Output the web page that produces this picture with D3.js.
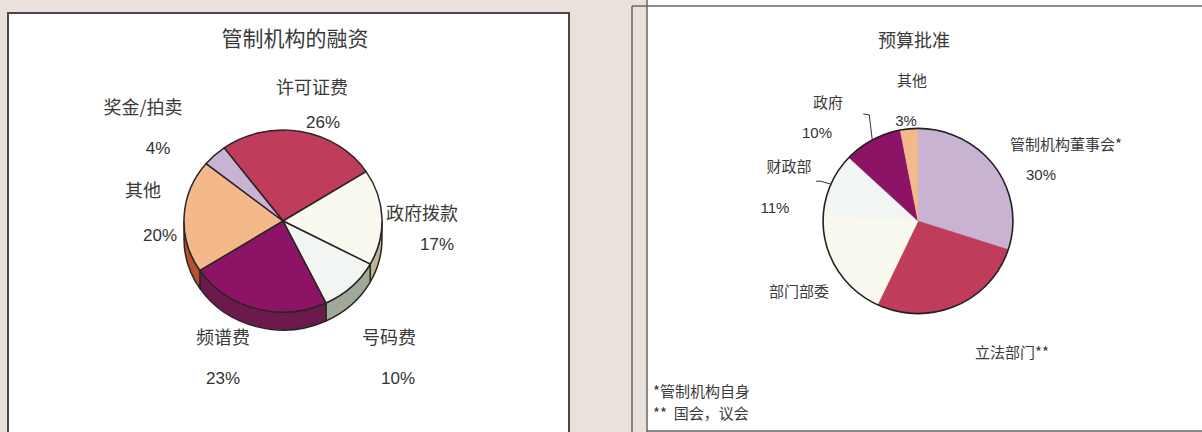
<!DOCTYPE html>
<html>
<head>
<meta charset="utf-8">
<script src="https://cdn.jsdelivr.net/npm/d3@7"></script>
<style>
  html, body { margin: 0; padding: 0; background: #e9e1dc; }
  svg { display: block; }
  .cn { font-family: "Noto Sans CJK SC", sans-serif; fill: #3a3a3a; }
  .num { font-family: "Liberation Sans", Arial, sans-serif; fill: #333; }
</style>
</head>
<body>
<svg id="SVG_CONTAINER" width="1202" height="432"></svg>
<script>
// ---- data: left chart (funding of the regulator) ----
const fundNames  = ["许可证费", "政府拨款", "号码费", "频谱费", "其他", "奖金/拍卖"];
const fundValues = [26, 17, 10, 23, 20, 4];
const fundLabels = ["26%", "17%", "10%", "23%", "20%", "4%"];

// ---- data: right chart (budget approval) ----
const budgetNames  = ["管制机构董事会*", "立法部门**", "部门部委", "财政部", "政府", "其他"];
const budgetValues = [30, 27, 19, 11, 10, 3];
const budgetLabels = ["30%", "", "", "11%", "10%", "3%"];

const footnotes = ["*管制机构自身", "**  国会，议会"];

// colours
const topColours  = ["#bf3d5b", "#f9f9f0", "#f1f6f2", "#8d1366", "#f4b98a", "#c8b3d2"];
const sideColours = ["#8a2a40", "#bdb592", "#9ea99a", "#6b1a4b", "#b5512f", "#8e7f98"];
const budgetColours = ["#c8b3d2", "#bf3d5b", "#f9f9f0", "#f1f6f2", "#8d1366", "#f4b98a"];

const width = 1202, height = 432;
let svg = d3.select("#SVG_CONTAINER");

//** PANELS *****************************************
svg.append("rect")
    .attr("x", 8).attr("y", 13)
    .attr("width", 561).attr("height", 440)
    .attr("fill", "#fff")
    .attr("stroke", "#4d4648").attr("stroke-width", 2);

svg.append("rect")
    .attr("x", 647).attr("y", 0)
    .attr("width", width - 647).attr("height", 431)
    .attr("fill", "#fff");
svg.append("line")   // top edge of the right frame
    .attr("x1", 632).attr("x2", width).attr("y1", 6).attr("y2", 6)
    .attr("stroke", "#6b6566").attr("stroke-width", 1.5);
svg.append("line")
    .attr("x1", 632).attr("x2", 632).attr("y1", 6).attr("y2", height)
    .attr("stroke", "#6b6566").attr("stroke-width", 1.5);
svg.append("line")
    .attr("x1", 647).attr("x2", 647).attr("y1", 0).attr("y2", height)
    .attr("stroke", "#6b6566").attr("stroke-width", 1.5);
svg.append("line")
    .attr("x1", 647).attr("x2", width).attr("y1", 431).attr("y2", 431)
    .attr("stroke", "#6b6566").attr("stroke-width", 1.5);

//** LEFT: 3D PIE *****************************************
let left = svg.append("g").attr("class", "leftPie");

left.append("text").attr("class", "cn")
    .attr("x", 295).attr("y", 46)
    .attr("text-anchor", "middle")
    .style("font-size", "21px")
    .text("管制机构的融资");

const cx = 283, cy = 221, rx = 99, ry = 91, depth = 18;
const deg = Math.PI / 180;

let pie3d = d3.pie().sort(null).value(d => d)
    .startAngle(-36.5 * deg)
    .endAngle(-36.5 * deg + 2 * Math.PI);
let fundArcs = pie3d(fundValues);

function rim(a, dy) {
    return [cx + rx * Math.sin(a), cy - ry * Math.cos(a) + (dy || 0)];
}

function sidePath(a0, a1) {
    let b0 = Math.max(a0, Math.PI / 2), b1 = Math.min(a1, 3 * Math.PI / 2);
    if (b1 <= b0) return null;
    let p0 = rim(b0), p1 = rim(b1), q1 = rim(b1, depth), q0 = rim(b0, depth);
    return "M" + p0 + " A" + rx + "," + ry + " 0 0 1 " + p1 +
        " L" + q1 + " A" + rx + "," + ry + " 0 0 0 " + q0 + " Z";
}

function topPath(a0, a1) {
    let p0 = rim(a0), p1 = rim(a1);
    let large = (a1 - a0) > Math.PI ? 1 : 0;
    return "M" + cx + "," + cy + " L" + p0 +
        " A" + rx + "," + ry + " 0 " + large + " 1 " + p1 + " Z";
}

// sides first, top faces over them
left.append("g").selectAll("path")
    .data(fundArcs.filter(d => sidePath(d.startAngle, d.endAngle)))
    .enter().append("path")
    .attr("d", d => sidePath(d.startAngle, d.endAngle))
    .attr("fill", d => sideColours[d.index])
    .attr("stroke", "#2b2426").attr("stroke-width", 1.5)
    .attr("stroke-linejoin", "round");

left.append("g").selectAll("path")
    .data(fundArcs)
    .enter().append("path")
    .attr("d", d => topPath(d.startAngle, d.endAngle))
    .attr("fill", d => topColours[d.index])
    .attr("stroke", "#2b2426").attr("stroke-width", 1.5)
    .attr("stroke-linejoin", "round");

// label layout (name position, value position)
const fundLabelPos = [
    [312, 94, 323, 128],
    [422, 220, 437, 250],
    [389, 344, 398, 384],
    [223, 344, 223, 384],
    [143, 197, 160, 241],
    [143, 114, 158, 154]
];
for (let i = 0; i < fundNames.length; i++) {
    let p = fundLabelPos[i];
    left.append("text").attr("class", "cn")
        .attr("x", p[0]).attr("y", p[1])
        .attr("text-anchor", "middle")
        .style("font-size", "18px")
        .text(fundNames[i]);
    left.append("text").attr("class", "num")
        .attr("x", p[2]).attr("y", p[3])
        .attr("text-anchor", "middle")
        .style("font-size", "17px")
        .text(fundLabels[i]);
}

//** RIGHT: FLAT PIE *****************************************
let right = svg.append("g").attr("class", "rightPie");

right.append("text").attr("class", "cn")
    .attr("x", 914).attr("y", 47)
    .attr("text-anchor", "middle")
    .style("font-size", "18px")
    .text("预算批准");

const pcx = 918, pcy = 221, r = 94;
let pie = d3.pie().sort(null).value(d => d);
let budgetArcs = pie(budgetValues);
let arc = d3.arc().innerRadius(0).outerRadius(r);

let pieG = right.append("g")
    .attr("transform", "translate(" + pcx + "," + pcy + ") scale(1.01,0.985)");
pieG.selectAll("path")
    .data(budgetArcs)
    .enter().append("path")
    .attr("d", arc)
    .attr("fill", (d, i) => budgetColours[i])
    .attr("stroke", (d, i) => budgetColours[i])
    .attr("stroke-width", 0.5);
pieG.append("circle")
    .attr("r", r)
    .attr("fill", "none")
    .attr("stroke", "#222").attr("stroke-width", 1.6);

// leader lines for 财政部 and 政府, starting at the slice rim
const leaders = [
    { idx: 4, pts: [[-3, -25], [-9, -26]] },
    { idx: 3, pts: [[-10, -3], [-15, -3]] }
];
leaders.forEach(function (l) {
    let a = (budgetArcs[l.idx].startAngle + budgetArcs[l.idx].endAngle) / 2;
    let sx = pcx + r * 1.01 * Math.sin(a), sy = pcy - r * 0.985 * Math.cos(a);
    let pts = [[sx, sy]].concat(l.pts.map(p => [sx + p[0], sy + p[1]]));
    right.append("path")
        .attr("d", d3.line()(pts))
        .attr("fill", "none")
        .attr("stroke", "#333").attr("stroke-width", 1);
});

const budgetLabelPos = [
    [1066, 150, 1041, 180],
    [1012, 358, 0, 0],
    [799, 297, 0, 0],
    [789, 172, 775, 213],
    [828, 108, 817, 138],
    [912, 86, 906, 126]
];
for (let i = 0; i < budgetNames.length; i++) {
    let p = budgetLabelPos[i];
    right.append("text").attr("class", "cn")
        .attr("x", p[0]).attr("y", p[1])
        .attr("text-anchor", "middle")
        .style("font-size", "15px")
        .text(budgetNames[i]);
    if (budgetLabels[i]) {
        right.append("text").attr("class", "num")
            .attr("x", p[2]).attr("y", p[3])
            .attr("text-anchor", "middle")
            .style("font-size", "15px")
            .text(budgetLabels[i]);
    }
}

footnotes.forEach(function (t, i) {
    right.append("text").attr("class", "cn")
        .attr("x", 653).attr("y", 397 + i * 22)
        .style("font-size", "15px")
        .style("white-space", "pre")
        .text(t);
});
</script>
</body>
</html>
